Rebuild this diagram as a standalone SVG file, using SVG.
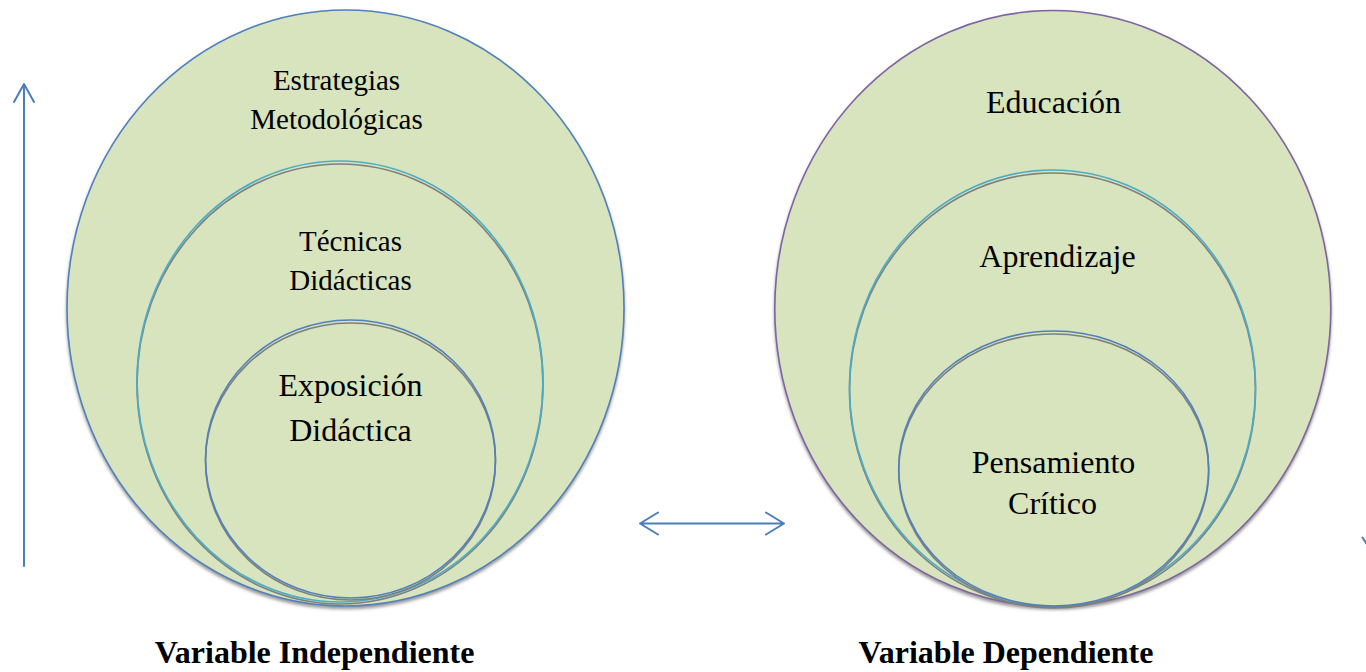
<svg xmlns="http://www.w3.org/2000/svg" width="1366" height="672" viewBox="0 0 1366 672">
<style>
.fill{fill:#D7E4BD}
.sh{fill:none;stroke:#7F7F7F;stroke-width:1.6}
.cy{fill:#D7E4BD;stroke:#4BACC6;stroke-width:1.6}
.bl{fill:#D7E4BD;stroke:#4F81BD;stroke-width:1.6}
.blo{fill:none;stroke:#4F81BD;stroke-width:1.6}
.cyo{fill:none;stroke:#4BACC6;stroke-width:1.6}
.t{font-family:"Liberation Serif","Times New Roman",serif;fill:#000;text-anchor:middle}
.s29{font-size:29px}
.s32{font-size:32px}
.b{font-weight:bold;font-size:32px}
.arr{fill:none;stroke:#4A7EBB;stroke-width:2;stroke-linecap:round;stroke-linejoin:round}
</style>
<defs>
<filter id="ds" x="-10%" y="-10%" width="120%" height="120%">
<feDropShadow dx="0" dy="2.5" stdDeviation="1.5" flood-color="#808080" flood-opacity="0.8"/>
</filter>
</defs>
<rect width="1366" height="672" fill="#fff"/>

<g id="left-outer">
<ellipse cx="345.5" cy="308" rx="278.5" ry="298" fill="#D7E4BD" stroke="#4F81BD" stroke-width="1.6" filter="url(#ds)"/>
<text class="t s29" x="336.5" y="90">Estrategias</text>
<text class="t s29" x="336.5" y="129">Metodológicas</text>
</g>
<g id="left-middle">
<ellipse class="fill" cx="340" cy="381.5" rx="203" ry="220.5"/>
<ellipse class="sh" cx="340" cy="384" rx="203" ry="220"/>
<ellipse class="cyo" cx="340" cy="381.5" rx="203" ry="220.5"/>
<text class="t s29" x="350.5" y="251">Técnicas</text>
<text class="t s29" x="350.5" y="290">Didácticas</text>
</g>
<g id="left-inner">
<ellipse class="fill" cx="350.5" cy="459" rx="145" ry="139"/>
<ellipse class="sh" cx="350.5" cy="461.5" rx="145" ry="138.5"/>
<ellipse class="blo" cx="350.5" cy="459" rx="145" ry="139"/>
<text class="t s32" x="350.5" y="396">Exposición</text>
<text class="t s32" x="350.5" y="441">Didáctica</text>
</g>

<g id="right-outer">
<ellipse cx="1052.8" cy="308.5" rx="278" ry="298" fill="#D7E4BD" stroke="#8064A2" stroke-width="1.6" filter="url(#ds)"/>
<text class="t s32" x="1053.5" y="113">Educación</text>
</g>
<g id="right-middle">
<ellipse class="fill" cx="1052.5" cy="387.5" rx="203" ry="217.5"/>
<ellipse class="sh" cx="1052.5" cy="390" rx="203" ry="217"/>
<ellipse class="cyo" cx="1052.5" cy="387.5" rx="203" ry="217.5"/>
<text class="t s32" x="1057.5" y="267">Aprendizaje</text>
</g>
<g id="right-inner">
<ellipse class="fill" cx="1053.7" cy="468.5" rx="155" ry="137.5"/>
<ellipse class="sh" cx="1053.7" cy="471" rx="155" ry="137"/>
<ellipse class="blo" cx="1053.7" cy="468.5" rx="155" ry="137.5"/>
<text class="t s32" x="1053.5" y="473">Pensamiento</text>
<text class="t s32" x="1052.5" y="514">Crítico</text>
</g>

<g id="labels">
<text class="t b" x="314.5" y="663">Variable Independiente</text>
<text class="t b" x="1006" y="663">Variable Dependiente</text>
</g>

<g id="connectors">
<path class="arr" d="M24 566 V85 M14 102 L24 84 L34 102"/>
<path class="arr" d="M641 523.5 H783 M658 512.5 L640 523.5 L658 534.5 M766 512.5 L784 523.5 L766 534.5"/>
<path class="arr" d="M1362.5 537.5 L1368 546"/>
</g>
</svg>
